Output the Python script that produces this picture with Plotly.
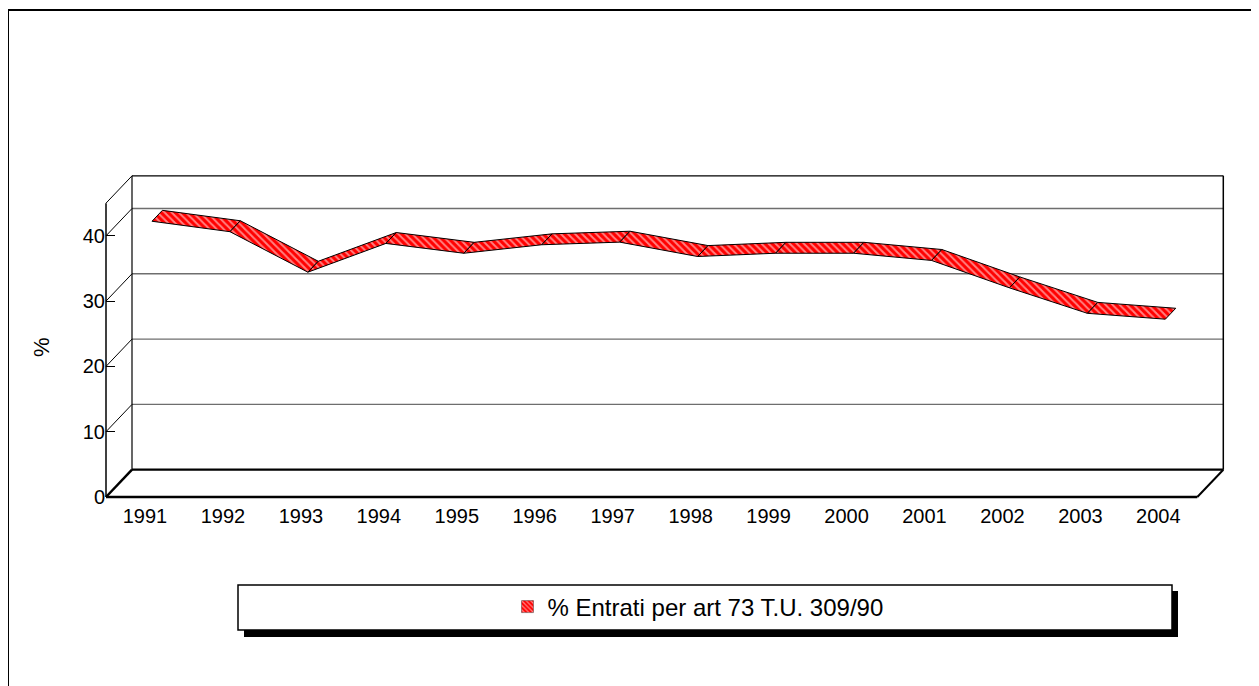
import plotly.graph_objects as go

# data
years = ['1991', '1992', '1993', '1994', '1995', '1996', '1997',
         '1998', '1999', '2000', '2001', '2002', '2003', '2004']
entrati_pct = [41.1, 39.5, 33.3, 37.7, 36.2, 37.5, 37.9,
               35.7, 36.2, 36.2, 35.1, 30.9, 27.0, 26.1]
y_ticks = [0, 10, 20, 30, 40]
series_name = '% Entrati per art 73 T.U. 309/90'

# page body has an 8px margin, so the figure is drawn 8px in
OFF = 8
W, H = 1259 - OFF, 686 - OFF

# geometry of the fake 3d box (pixels -> data units)
PX_X = 77.95          # px per category
PX_Y = 6.53           # px per percent
LEFT, RIGHT, TOP, BOTTOM = 106 - OFF, 1232 - OFF, 168 - OFF, 497 - OFF
X_MAX = (RIGHT - LEFT) / PX_X
Y_MAX = (BOTTOM - TOP) / PX_Y
DX = 26 / PX_X        # depth shift
DY = 27.3 / PX_Y
Y_TOP = 45
F1, F2 = 0.27, 0.67   # ribbon front / back depth
FONT = 'Liberation Sans, Arial, sans-serif'


def px(x, y):
    # data coords -> paper coords
    return x / X_MAX, y / Y_MAX


def pp(xp, yp):
    # screen pixels (reference) -> paper coords
    xp, yp = xp - OFF, yp - OFF
    return (xp - LEFT) / (RIGHT - LEFT), (BOTTOM - yp) / (BOTTOM - TOP)


shapes = []


def seg(x0, y0, x1, y1, color='black', width=1):
    a, b = px(x0, y0)
    c, d = px(x1, y1)
    shapes.append(dict(type='line', xref='paper', yref='paper', x0=a, y0=b, x1=c, y1=d,
                       line=dict(color=color, width=width), layer='below'))


n = len(years)

# back wall gridlines + side wall diagonals
for v in y_ticks[1:]:
    seg(DX, v + DY, n + DX, v + DY, color='#6e6e6e', width=1.4)
for v in y_ticks[1:] + [Y_TOP]:
    seg(0, v, DX, v + DY, width=1)
seg(DX, Y_TOP + DY, n + DX, Y_TOP + DY, width=1.2)
seg(DX, DY, DX, Y_TOP + DY, width=1.2)
seg(n + DX, DY, n + DX, Y_TOP + DY, width=1.5)
seg(0, 0, 0, Y_TOP, width=1.5)

# floor
seg(0, 0, n, 0, width=2.5)
seg(0, 0, DX, DY, width=2.5)
seg(DX, DY, n + DX, DY, width=2.2)
seg(n, 0, n + DX, DY, width=2)

# outer border and legend box
bx0, by0 = pp(8, 10)
bx1, by1 = pp(1257, 700)
shapes.append(dict(type='rect', xref='paper', yref='paper', x0=bx0, y0=by0, x1=bx1, y1=by1,
                   line=dict(color='black', width=2), layer='below'))
sx0, sy0 = pp(244, 591)
sx1, sy1 = pp(1178, 637)
shapes.append(dict(type='rect', xref='paper', yref='paper', x0=sx0, y0=sy0, x1=sx1, y1=sy1,
                   line=dict(width=0), fillcolor='black', layer='above'))
lx0, ly0 = pp(238, 585)
lx1, ly1 = pp(1172, 630)
shapes.append(dict(type='rect', xref='paper', yref='paper', x0=lx0, y0=ly0, x1=lx1, y1=ly1,
                   line=dict(color='black', width=1.5), fillcolor='white', layer='above'))

fig = go.Figure()

pattern = dict(shape='\\', fgcolor='white', bgcolor='red', size=5, solidity=0.4)

# ribbon segments
for i in range(n - 1):
    xa, xb = i + 0.5, i + 1.5
    va, vb = entrati_pct[i], entrati_pct[i + 1]
    xs = [xa + F1 * DX, xb + F1 * DX, xb + F2 * DX, xa + F2 * DX, xa + F1 * DX]
    ys = [va + F1 * DY, vb + F1 * DY, vb + F2 * DY, va + F2 * DY, va + F1 * DY]
    fig.add_trace(go.Scatter(
        x=xs, y=ys, mode='lines', fill='toself',
        fillcolor='red', fillpattern=pattern,
        line=dict(color='black', width=1),
        showlegend=False, hoverinfo='skip',
    ))

# legend entry
fig.add_trace(go.Bar(
    x=[None], y=[None], name=series_name,
    marker=dict(color='red', pattern=dict(shape='\\', fgcolor='white', bgcolor='red', size=4, solidity=0.4),
                line=dict(color='#444', width=0.5)),
))

legx, legy = pp(698, 607)
ax, ay = pp(41, 347)

fig.update_layout(
    width=W, height=H,
    margin=dict(l=LEFT, r=W - RIGHT, t=TOP, b=H - BOTTOM, autoexpand=False),
    paper_bgcolor='white', plot_bgcolor='white',
    font=dict(family=FONT, size=20, color='black'),
    shapes=shapes,
    showlegend=True,
    legend=dict(x=legx, y=legy, xanchor='center', yanchor='middle',
                bgcolor='rgba(0,0,0,0)', borderwidth=0, itemwidth=30,
                font=dict(family=FONT, size=24, color='black')),
    annotations=[dict(text='%', xref='paper', yref='paper', x=ax, y=ay,
                      xanchor='center', yanchor='middle', showarrow=False,
                      textangle=-90, font=dict(family=FONT, size=22))],
)

fig.update_xaxes(range=[0, X_MAX], tickvals=[i + 0.5 for i in range(n)], ticktext=years,
                 ticks='outside', ticklen=1, tickcolor='rgba(0,0,0,0)',
                 showgrid=False, zeroline=False, showline=False, automargin=False)
fig.update_yaxes(range=[0, Y_MAX], tickvals=y_ticks, ticks='inside', ticklen=9,
                 tickcolor='black', tickwidth=1,
                 showgrid=False, zeroline=False, showline=False, automargin=False)

fig.write_html('out.html')
